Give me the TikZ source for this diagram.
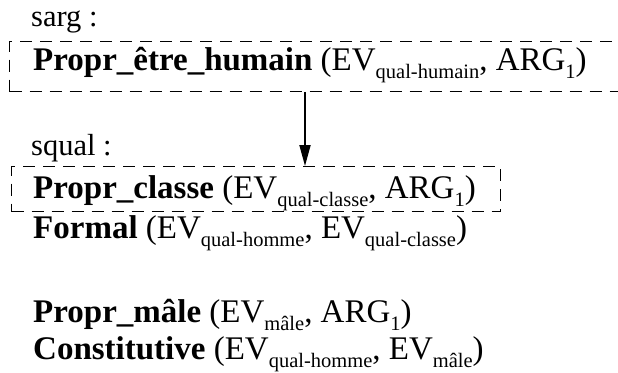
\documentclass[tikz,border=0pt]{standalone}
\usepackage{fontspec}
\setmainfont{Liberation Serif}
\usetikzlibrary{arrows.meta}
% lowered, smaller index text
\newcommand\lowsub[1]{\raisebox{-8pt}{\fontsize{20.5}{20.5}\selectfont #1}}
\begin{document}
\begin{tikzpicture}[x=1pt,y=-1pt,
  entry/.style={inner sep=0pt, anchor=base west, font=\fontsize{33}{36}\selectfont},
  tag/.style={inner sep=0pt, anchor=base west, font=\fontsize{30.5}{34}\selectfont},
  dashbox/.style={draw, dash pattern=on 12pt off 8pt, line width=1.2pt, inner sep=0pt, anchor=north west},
  link/.style={-{Triangle[length=21pt,width=11pt]}, line width=1.8pt}]
\useasboundingbox (0,0) rectangle (618,372);
\clip (0,0) rectangle (618,372);

% frames
\node[dashbox, minimum width=616pt, minimum height=50pt] (argbox) at (9,41) {};
\node[dashbox, minimum width=489pt, minimum height=45pt] (qualbox) at (11,166) {};

% texts
\node[tag] (sarg) at (31,27) {sarg :};
\node[entry] (l1) at (33,70) {\textbf{Propr\_être\_humain} (EV\lowsub{qual-humain}, ARG\lowsub{1})};
\node[tag] (squal) at (31,155) {squal :};
\node[entry] (l2) at (33,198) {\textbf{Propr\_classe} (EV\lowsub{qual-classe}, ARG\lowsub{1})};
\node[entry] (l3) at (33,238) {\textbf{Formal} (EV\lowsub{qual-homme}, EV\lowsub{qual-classe})};
\node[entry] (l4) at (33,322) {\textbf{Propr\_mâle} (EV\lowsub{mâle}, ARG\lowsub{1})};
\node[entry] (l5) at (33,359) {\textbf{Constitutive} (EV\lowsub{qual-homme}, EV\lowsub{mâle})};

% link between frames
\coordinate (ax) at (305,0);
\draw[link] (argbox.south -| ax) -- (qualbox.north -| ax);
\end{tikzpicture}
\end{document}
